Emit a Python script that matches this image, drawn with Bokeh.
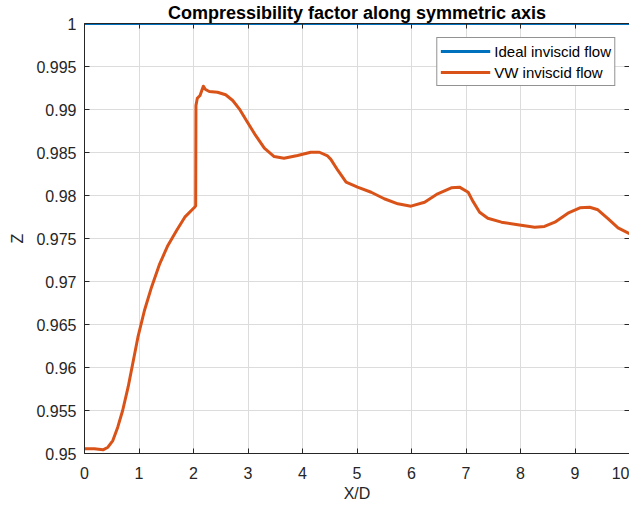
from bokeh.plotting import figure
from bokeh.models import FixedTicker, LinearAxis, Legend, LegendItem, Range1d
from bokeh.embed import file_html
from bokeh.resources import INLINE

# ---- data ----
ideal_x = [0, 10]
ideal_z = [1.0, 1.0]

vw_x = [0.00, 0.18, 0.34, 0.43, 0.52, 0.61, 0.70, 0.80, 0.89, 0.98, 1.10, 1.23, 1.38,
        1.53, 1.69, 1.84, 2.02, 2.04, 2.045, 2.07, 2.12, 2.18, 2.22, 2.29, 2.44, 2.59,
        2.72, 2.84, 2.99, 3.14, 3.30, 3.48, 3.66, 3.91, 4.15, 4.31, 4.46, 4.52, 4.65,
        4.80, 5.01, 5.26, 5.50, 5.75, 5.99, 6.24, 6.48, 6.73, 6.88, 7.04, 7.12, 7.25,
        7.40, 7.65, 7.95, 8.26, 8.44, 8.63, 8.87, 9.09, 9.27, 9.42, 9.61, 9.79, 10.0]
vw_z = [0.95055, 0.95055, 0.95043, 0.95073, 0.95151, 0.95306, 0.95500, 0.95771, 0.96062,
        0.96352, 0.96663, 0.96934, 0.97206, 0.97419, 0.97593, 0.97748, 0.97864, 0.97880,
        0.99047, 0.99131, 0.99163, 0.99271, 0.99233, 0.99209, 0.99201, 0.99171, 0.99105,
        0.99008, 0.98852, 0.98698, 0.98550, 0.98453, 0.98434, 0.98465, 0.98503, 0.98503,
        0.98460, 0.98420, 0.98291, 0.98155, 0.98097, 0.98038, 0.97962, 0.97903, 0.97876,
        0.97922, 0.98020, 0.98090, 0.98097, 0.98038, 0.97940, 0.97806, 0.97736, 0.97690,
        0.97659, 0.97631, 0.97640, 0.97690, 0.97794, 0.97857, 0.97864, 0.97834, 0.97729,
        0.97624, 0.97555]

x_ticks = [0, 1, 2, 3, 4, 5, 6, 7, 8, 9, 10]
y_ticks = [0.95, 0.955, 0.96, 0.965, 0.97, 0.975, 0.98, 0.985, 0.99, 0.995, 1.0]
y_tick_labels = ["0.95", "0.955", "0.96", "0.965", "0.97", "0.975", "0.98", "0.985",
                 "0.99", "0.995", "1"]

FONT = "Liberation Sans"
AX = "#262626"

p = figure(width=629, height=509, output_backend="svg", toolbar_location=None,
           x_range=Range1d(0, 10), y_range=Range1d(0.95, 1.0),
           min_border_left=84, min_border_right=0, min_border_bottom=56, min_border_top=23)
p.title.text = "Compressibility factor along symmetric axis"
p.title.text_font = FONT
p.title.text_font_size = "18px"
p.title.text_font_style = "bold"
p.title.text_color = "#000000"
p.title.align = "center"
p.title.offset = 0
p.title.standoff = 1

p.outline_line_color = None
p.background_fill_color = "white"
p.border_fill_color = "white"

for ax in (p.xaxis[0], p.yaxis[0]):
    ax.axis_line_color = AX
    ax.major_tick_line_color = AX
    ax.major_tick_in = 5
    ax.major_tick_out = 0
    ax.minor_tick_line_color = None
    ax.major_label_text_font = FONT
    ax.major_label_text_font_size = "16px"
    ax.major_label_text_color = AX
    ax.axis_label_text_font = FONT
    ax.axis_label_text_font_size = "16px"
    ax.axis_label_text_font_style = "normal"
    ax.axis_label_text_color = AX

p.xaxis.ticker = FixedTicker(ticks=x_ticks)
p.yaxis.ticker = FixedTicker(ticks=y_ticks)
p.yaxis.major_label_overrides = {t: l for t, l in zip(y_ticks, y_tick_labels)}
p.xaxis.axis_label = "X/D"
p.yaxis.axis_label = "Z"
p.xaxis.major_label_standoff = 13
p.yaxis.major_label_standoff = 8
p.xaxis.axis_label_standoff = 3
p.yaxis.axis_label_standoff = 7

# box axes (right / top) with inward ticks, no labels
ra = LinearAxis(ticker=FixedTicker(ticks=y_ticks), major_label_text_color=None,
                major_label_standoff=0,
                major_tick_in=5, major_tick_out=0, axis_line_color=AX,
                major_tick_line_color=AX, minor_tick_line_color=None)
ta = LinearAxis(ticker=FixedTicker(ticks=x_ticks), major_label_text_color=None,
                major_label_standoff=0,
                major_tick_in=5, major_tick_out=0, axis_line_color=AX,
                major_tick_line_color=AX, minor_tick_line_color=None)
p.add_layout(ra, "right")
p.add_layout(ta, "above")

p.xgrid.grid_line_color = "#dcdcdc"
p.ygrid.grid_line_color = "#dcdcdc"

r1 = p.line(ideal_x, ideal_z, line_color="#0072BD", line_width=3)
r2 = p.line(vw_x, vw_z, line_color="#D95319", line_width=3, line_join="round")

legend = Legend(items=[LegendItem(label="Ideal inviscid flow", renderers=[r1]),
                       LegendItem(label="VW inviscid flow", renderers=[r2])],
                location="top_right")
legend.label_text_font = FONT
legend.label_text_font_size = "15px"
legend.label_text_color = "#000000"
legend.glyph_width = 50
legend.glyph_height = 20
legend.label_height = 20
legend.spacing = 1
legend.padding = 3
legend.margin = 14
legend.label_standoff = 4
legend.border_line_color = AX
legend.border_line_width = 1
legend.background_fill_color = "white"
legend.background_fill_alpha = 1.0
p.add_layout(legend, "center")

open("out.html", "w").write(file_html(p, INLINE))
